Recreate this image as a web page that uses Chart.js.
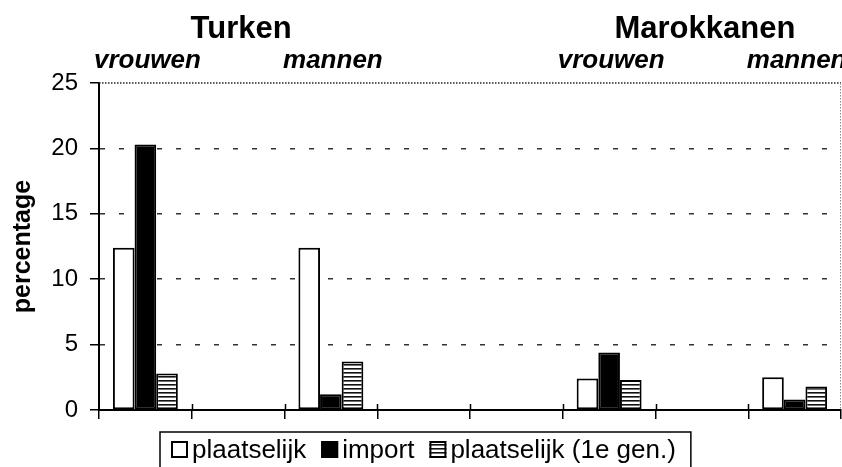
<!DOCTYPE html>
<html>
<head>
    <title>Turken en Marokkanen</title>
    <script src="https://cdn.jsdelivr.net/npm/chart.js"></script>
    <style>
        html, body {
            margin: 0;
            padding: 0;
            background: #ffffff;
        }
        #wrap {
            width: 842px;
            height: 467px;
            overflow: hidden;
        }
    </style>
</head>
<body>
    <div id="wrap">
        <canvas id="chart" width="842" height="467"></canvas>
    </div>

    <script>
        // categories along the x axis (empty slots are spacer categories)
        const categories = ['vrouwen', '', 'mannen', '', '', 'vrouwen', '', 'mannen'];
        // group headings and the first/last category index they cover
        const groupNames = ['Turken', 'Marokkanen'];
        const groupFrom = [0, 5];
        const groupTo = [2, 7];

        const seriesNames = ['plaatselijk', 'import', 'plaatselijk (1e gen.)'];
        const plaatselijk = [12.4, null, 12.4, null, null, 2.4, null, 2.5];
        const importData = [20.3, null, 1.2, null, null, 4.4, null, 0.8];
        const eersteGen = [2.8, null, 3.7, null, null, 2.3, null, 1.8];

        const yTicks = [0, 5, 10, 15, 20, 25];

        const FONT = "'Liberation Sans', Arial, sans-serif";

        // horizontal stripes used for the third series
        function stripes(ctx) {
            const c = document.createElement('canvas');
            c.width = 8;
            c.height = 4;
            const g = c.getContext('2d');
            g.fillStyle = '#ffffff';
            g.fillRect(0, 0, 8, 4);
            g.fillStyle = '#111111';
            g.fillRect(0, 0, 8, 1.6);
            return ctx.createPattern(c, 'repeat');
        }

        const canvas = document.getElementById('chart');
        const ctx = canvas.getContext('2d');
        const stripeFill = stripes(ctx);

        // headings above the plot: group names and vrouwen/mannen
        const headings = {
            id: 'headings',
            afterDraw(chart) {
                const c = chart.ctx;
                const x = chart.scales.x;
                c.save();
                c.fillStyle = '#000';
                c.textAlign = 'center';
                c.textBaseline = 'alphabetic';
                c.font = 'bold 31px ' + FONT;
                groupNames.forEach((name, i) => {
                    const cx = (x.getPixelForValue(groupFrom[i]) + x.getPixelForValue(groupTo[i])) / 2;
                    c.fillText(name, cx + 3, 38);
                });
                c.font = 'italic bold 26px ' + FONT;
                categories.forEach((name, i) => {
                    if (name) c.fillText(name, x.getPixelForValue(i) + 2, 68);
                });
                c.restore();
            }
        };

        // dotted top and right frame of the plot area, ticks crossing the x axis
        const frame = {
            id: 'frame',
            beforeDatasetsDraw(chart) {
                const c = chart.ctx;
                const a = chart.chartArea;
                const x = chart.scales.x;
                c.save();
                c.strokeStyle = '#222';
                c.lineWidth = 1.5;
                c.setLineDash([1.5, 1.5]);
                c.beginPath();
                c.moveTo(a.left, a.top);
                c.lineTo(a.right, a.top);
                c.stroke();
                c.strokeStyle = '#888';
                c.lineWidth = 1;
                c.beginPath();
                c.moveTo(a.right - 0.5, a.top);
                c.lineTo(a.right - 0.5, a.bottom);
                c.stroke();
                c.setLineDash([]);
                c.strokeStyle = '#000';
                c.lineWidth = 1.5;
                const step = x.width / categories.length;
                for (let i = 1; i < categories.length; i++) {
                    const px = Math.round(x.left + i * step) + 0.5;
                    c.beginPath();
                    c.moveTo(px, a.bottom - 6);
                    c.lineTo(px, a.bottom);
                    c.stroke();
                }
                c.restore();
            }
        };

        // boxed legend below the chart
        const boxLegend = {
            id: 'boxLegend',
            afterDraw(chart) {
                const c = chart.ctx;
                const left = 160, top = 432;
                c.save();
                c.font = '26px ' + FONT;
                c.textBaseline = 'alphabetic';
                let x = 171;
                chart.data.datasets.forEach(ds => {
                    c.fillStyle = ds.backgroundColor;
                    c.fillRect(x, 441, 17, 17);
                    c.strokeStyle = '#000';
                    c.lineWidth = 2;
                    c.strokeRect(x + 1, 442, 15, 15);
                    c.fillStyle = '#000';
                    c.fillText(ds.label, x + 21, 458);
                    x += 21 + c.measureText(ds.label).width + 15;
                });
                c.strokeStyle = '#000';
                c.lineWidth = 1.5;
                c.strokeRect(left, top, x - left, 60);
                c.restore();
            }
        };

        new Chart(ctx, {
            type: 'bar',
            data: {
                labels: categories,
                datasets: [
                    { label: seriesNames[0], data: plaatselijk, backgroundColor: '#ffffff' },
                    { label: seriesNames[1], data: importData, backgroundColor: '#000000' },
                    { label: seriesNames[2], data: eersteGen, backgroundColor: stripeFill }
                ]
            },
            options: {
                responsive: false,
                animation: false,
                devicePixelRatio: 1,
                layout: {
                    padding: { top: 83, right: 1, bottom: 0, left: 0 }
                },
                datasets: {
                    bar: {
                        borderColor: '#000',
                        borderWidth: 2,
                        borderSkipped: false,
                        categoryPercentage: 0.7,
                        barPercentage: 1
                    }
                },
                plugins: {
                    legend: { display: false },
                    tooltip: { enabled: false }
                },
                scales: {
                    x: {
                        offset: true,
                        ticks: { display: false },
                        grid: {
                            offset: true,
                            drawOnChartArea: false,
                            drawTicks: true,
                            tickLength: 9,
                            color: '#000',
                            lineWidth: 1.5
                        },
                        border: { color: '#000', width: 2 },
                        afterFit: s => { s.height = 57; }
                    },
                    y: {
                        min: 0,
                        max: 25,
                        afterBuildTicks: s => { s.ticks = yTicks.map(v => ({ value: v })); },
                        ticks: {
                            color: '#000',
                            padding: 12,
                            font: { family: FONT, size: 24 }
                        },
                        grid: {
                            color: c => (c.tick && (c.tick.value === 0 || c.tick.value === 25)) ? 'rgba(0,0,0,0)' : '#333',
                            lineWidth: 1.5,
                            tickColor: '#000',
                            tickLength: 9
                        },
                        border: { color: '#000', width: 2, dash: [5, 14] },
                        title: {
                            display: true,
                            text: 'percentage',
                            color: '#000',
                            font: { family: FONT, size: 25, weight: 'bold' },
                            padding: { top: 8, bottom: 0 }
                        },
                        afterFit: s => { s.width = 99; }
                    }
                }
            },
            plugins: [frame, headings, boxLegend]
        });
    </script>
</body>
</html>
